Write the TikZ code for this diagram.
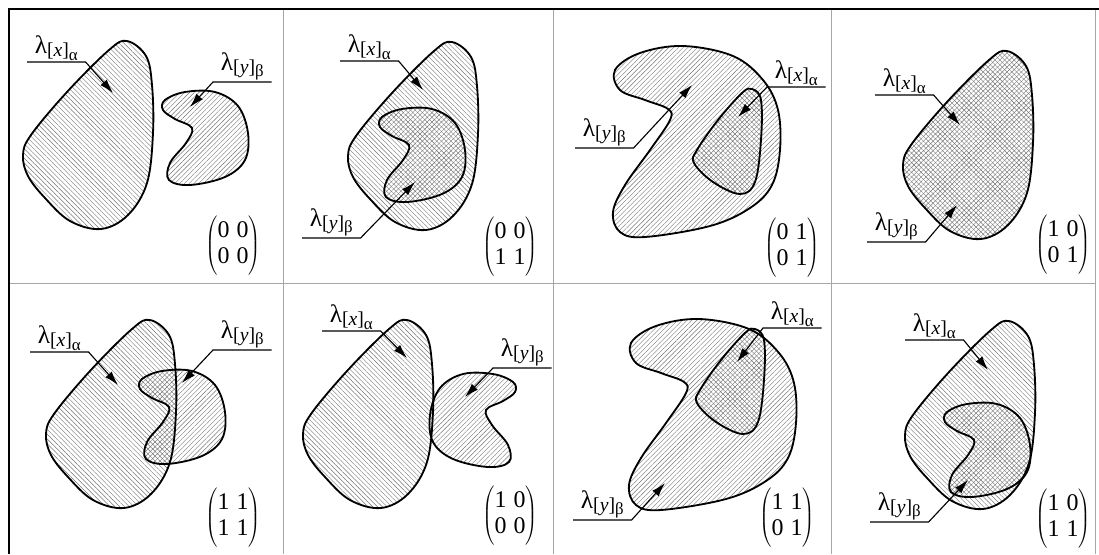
\documentclass[tikz,border=0pt]{standalone}
\usepackage{fontspec}
\setmainfont{Liberation Serif}
\usepackage{tikz}
\usetikzlibrary{arrows.meta,patterns.meta}
\newcommand{\lam}[2]{λ\raisebox{-0.3ex}{\fontsize{14}{14}\selectfont[\textit{#1}]\raisebox{-0.35ex}{\fontsize{12}{12}\selectfont #2}}}
\newcommand{\mtx}[4]{$\left(\rule[-18pt]{0pt}{45pt}\begin{array}{@{}c@{\hspace{5pt}}c@{}}\mbox{#1}&\mbox{#2}\\\mbox{#3}&\mbox{#4}\end{array}\right)$}
% set outlines, all given in the coordinates of the cell where they first appear
\newcommand{\blobA}{plot[smooth cycle,tension=0.6] coordinates {(127,41) (146,56) (152,85) (153,133) (147,183) (128,215) (101,229) (70,221) (45,198) (28,176) (23,155) (31,135) (67,92) (109,50)}}
\newcommand{\blobB}{plot[smooth cycle,tension=0.6] coordinates {(165,100) (185,92) (215,92) (238,106) (248,133) (245,160) (225,177) (190,185) (169,180) (170,163) (186,143) (192,128) (175,119) (163,110)}}
\newcommand{\blobC}{plot[smooth cycle,tension=0.6] coordinates {(615,70) (640,53) (683,46) (733,56) (763,80) (778,110) (780,150) (772,185) (750,208) (710,226) (645,237) (620,232) (613,212) (625,185) (650,150) (670,120) (668,109) (645,100) (620,90)}}
\newcommand{\blobD}{plot[smooth cycle,tension=0.6] coordinates {(752,89) (761,100) (761,140) (755,182) (740,194) (713,182) (694,163) (697,150) (718,120) (742,93)}}
\tikzset{
  setx/.style={pattern={Lines[angle=-45,distance=2.4pt,line width=0.3pt]},pattern color=black!55},
  sety/.style={pattern={Lines[angle=45,distance=2.4pt,line width=0.3pt]},pattern color=black!55},
  outl/.style={draw=black,line width=1.3pt},
  lbl/.style={font=\fontsize{18}{20}\selectfont,inner sep=1pt,minimum width=1.45cm,anchor=south west},
  lead/.style={draw=black,line width=0.8pt,-{Latex[length=10pt,width=6pt]}},
  mat/.style={font=\fontsize{17}{19}\selectfont,inner sep=0pt},
  cell/.style={draw=black!35,line width=0.6pt},
  rim/.style={draw=black,line width=2pt},
}
\begin{document}
\begin{tikzpicture}[x=0.025cm,y=-0.025cm]
  \useasboundingbox (0,0) rectangle (1099,554);
  % table
  \foreach \x in {283,553,831,1095}{ \draw[cell] (\x,9) -- (\x,554); }
  \draw[cell] (9,283) -- (1095,283);
  \draw[rim] (8,9) -- (1099,9);
  \draw[rim] (9,8) -- (9,554);
  % hatching first, outlines on top
  \path[setx] \blobA; \path[sety] \blobB;
  \path[setx,shift={(325,1)}] \blobA; \path[sety,shift={(217,17)}] \blobB;
  \path[sety] \blobC; \path[setx] \blobD;
  \path[setx,shift={(880,10)}] \blobA; \path[sety,shift={(880,10)}] \blobA;
  \path[setx,shift={(23,279)}] \blobA; \path[sety,shift={(-23,279)}] \blobB;
  \path[setx,shift={(280,279)}] \blobA; \path[sety,shift={(678,282)},xscale=-1] \blobB;
  \path[sety,shift={(16,273)}] \blobC; \path[setx,shift={(3,240)}] \blobD;
  \path[setx,shift={(882,280)}] \blobA; \path[sety,shift={(782,312)}] \blobB;
  \draw[outl] \blobA; \draw[outl] \blobB;
  \draw[outl,shift={(325,1)}] \blobA; \draw[outl,shift={(217,17)}] \blobB;
  \draw[outl] \blobC; \draw[outl] \blobD;
  \draw[outl,shift={(880,10)}] \blobA;
  \draw[outl,shift={(23,279)}] \blobA; \draw[outl,shift={(-23,279)}] \blobB;
  \draw[outl,shift={(280,279)}] \blobA; \draw[outl,shift={(678,282)},xscale=-1] \blobB;
  \draw[outl,shift={(16,273)}] \blobC; \draw[outl,shift={(3,240)}] \blobD;
  \draw[outl,shift={(882,280)}] \blobA; \draw[outl,shift={(782,312)}] \blobB;
  % labels
  \node[lbl] (ax1) at (27,62) {\lam{x}{α}};   \coordinate (tax1) at (113,93);
  \node[lbl] (by1) at (213,82) {\lam{y}{β}};  \coordinate (tby1) at (190,107);
  \node[lbl] (ax2) at (340,61) {\lam{x}{α}};  \coordinate (tax2) at (423,90);
  \node[lbl] (by2) at (302,238) {\lam{y}{β}}; \coordinate (tby2) at (415,182);
  \node[lbl] (ax3) at (767,87) {\lam{x}{α}};  \coordinate (tax3) at (738,117);
  \node[lbl] (by3) at (575,148) {\lam{y}{β}}; \coordinate (tby3) at (692,85);
  \node[lbl] (ax4) at (875,95) {\lam{x}{α}};  \coordinate (tax4) at (960,125);
  \node[lbl] (by4) at (867,242) {\lam{y}{β}}; \coordinate (tby4) at (957,205);
  \node[lbl] (ax5) at (30,352) {\lam{x}{α}};  \coordinate (tax5) at (118,385);
  \node[lbl] (by5) at (213,350) {\lam{y}{β}}; \coordinate (tby5) at (182,383);
  \node[lbl] (ax6) at (322,331) {\lam{x}{α}}; \coordinate (tax6) at (407,358);
  \node[lbl] (by6) at (493,368) {\lam{y}{β}}; \coordinate (tby6) at (465,397);
  \node[lbl] (ax7) at (763,328) {\lam{x}{α}}; \coordinate (tax7) at (737,362);
  \node[lbl] (by7) at (573,520) {\lam{y}{β}}; \coordinate (tby7) at (665,483);
  \node[lbl] (ax8) at (905,340) {\lam{x}{α}}; \coordinate (tax8) at (988,370);
  \node[lbl] (by8) at (870,522) {\lam{y}{β}}; \coordinate (tby8) at (968,480);
  \foreach \n in {ax1,ax2,by2,by3,ax4,by4,ax5,ax6,by7,ax8,by8}{
    \draw[lead] (\n.south west) -- (\n.south east) -- (t\n); }
  \foreach \n in {by1,ax3,by5,by6,ax7}{
    \draw[lead] (\n.south east) -- (\n.south west) -- (t\n); }
  % matrices
  \node[mat] (m1) at (233,245) {\mtx0000};
  \node[mat] (m2) at (510,246) {\mtx0011};
  \node[mat] (m3) at (792,247) {\mtx0101};
  \node[mat] (m4) at (1063,244) {\mtx1001};
  \node[mat] (m5) at (233,517) {\mtx1111};
  \node[mat] (m6) at (510,515) {\mtx1000};
  \node[mat] (m7) at (787,517) {\mtx1101};
  \node[mat] (m8) at (1063,518) {\mtx1011};
\end{tikzpicture}
\end{document}
